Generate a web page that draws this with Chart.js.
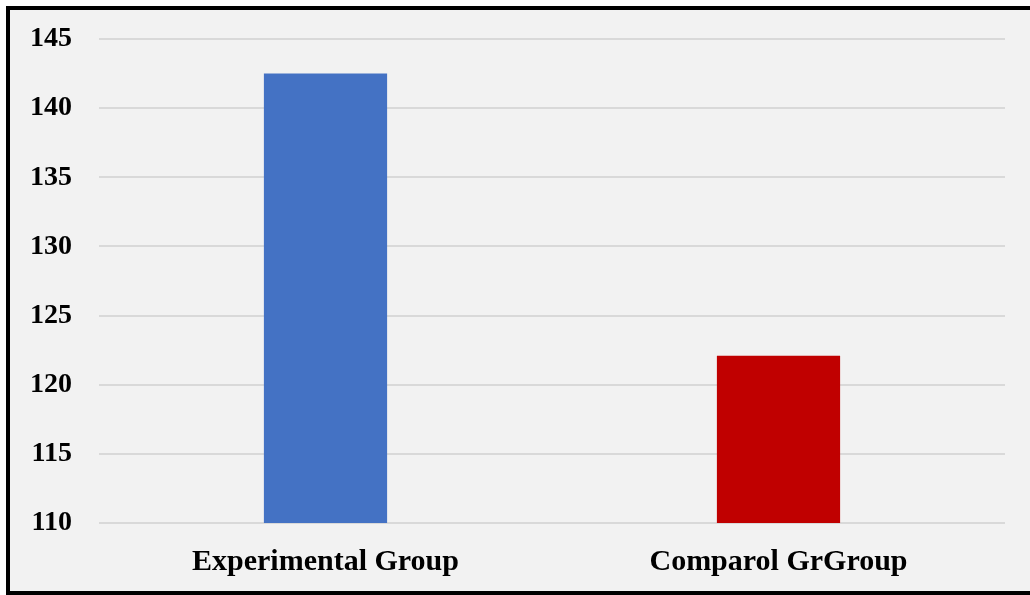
<!DOCTYPE html>
<html>
<head>
<meta charset="utf-8">
<script src="https://cdn.jsdelivr.net/npm/chart.js@4.4.1/dist/chart.umd.min.js"></script>
<style>
  html, body { margin: 0; padding: 0; background: #ffffff; overflow: hidden; }
  #frame {
    position: absolute; left: 6px; top: 6px;
    width: 1020px; height: 581px;
    border-left: 4px solid #000; border-top: 4px solid #000; border-bottom: 4px solid #000;
    background: #f2f2f2;
  }
  #wrap { position: absolute; left: 0; top: 0; width: 1030px; height: 595px; }
</style>
</head>
<body>
<div id="frame"></div>
<div id="wrap"><canvas id="groupChart" width="1030" height="595"></canvas></div>
<script>
const groups = ['Experimental Group', 'Comparol GrGroup'];
const scores = [142.5, 122.1];
const barColors = ['#4472c4', '#c00000'];
const yTicks = [110, 115, 120, 125, 130, 135, 140, 145];

document.addEventListener("DOMContentLoaded", () => {
  const ctx = document.getElementById('groupChart');
  if (!ctx) return;

  new Chart(ctx.getContext('2d'), {
    type: 'bar',
    data: {
      labels: groups,
      datasets: [{
        data: scores,
        backgroundColor: barColors,
        borderWidth: 0,
        barPercentage: 0.272,
        categoryPercentage: 1
      }]
    },
    options: {
      responsive: false,
      animation: false,
      layout: { padding: { top: 39, right: 25, left: 0, bottom: 0 } },
      plugins: {
        legend: { display: false },
        tooltip: { enabled: false }
      },
      scales: {
        y: {
          min: 110,
          max: 145,
          afterBuildTicks: (scale) => { scale.ticks = yTicks.map(v => ({ value: v })); },
          afterFit: (scale) => {
            // fixed axis width, no extra room for the top label
            scale.width = 99;
            scale.paddingTop = 0;
            scale.paddingBottom = 0;
          },
          border: { display: false },
          grid: { color: '#d9d9d9', lineWidth: 2, drawTicks: false },
          ticks: {
            padding: 27,
            color: '#000',
            font: { family: 'Liberation Serif', size: 28, weight: 'bold' }
          }
        },
        x: {
          afterFit: (scale) => { scale.height = 72; },
          border: { display: false },
          grid: { display: false },
          ticks: {
            padding: 13,
            color: '#000',
            font: { family: 'Liberation Serif', size: 30, weight: 'bold' }
          }
        }
      }
    }
  });
});
</script>
</body>
</html>
